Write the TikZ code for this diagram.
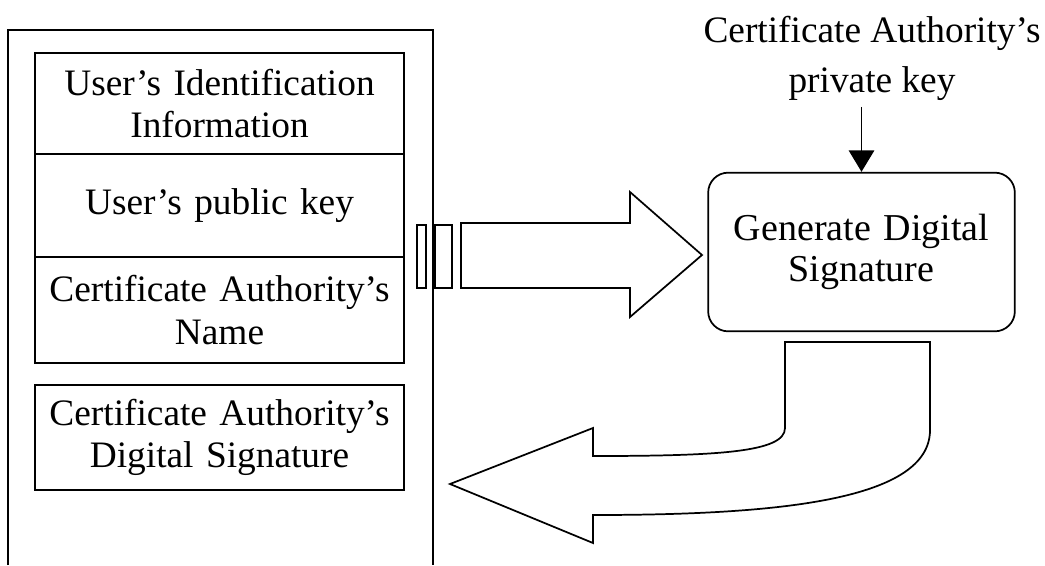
\documentclass[tikz,border=0pt]{standalone}
\usepackage{fontspec}
\setmainfont{Liberation Serif}
\usetikzlibrary{positioning, arrows.meta}
\tikzset{
	>={Triangle[width=19pt,length=16pt]},
	field/.style={draw, line width=1.3pt, minimum width=277pt, text width=272pt, align=center, inner sep=0pt, outer sep=0pt, font=\fontsize{28}{32}\selectfont},
	genbox/.style={draw, line width=1.3pt, rounded corners=15pt, minimum width=230pt, minimum height=119pt, text width=222pt, align=center, font=\fontsize{28.5}{31}\selectfont},
	bigarrow/.style={draw, line width=1.3pt, line join=miter},
}

\begin{document}
\begin{tikzpicture}[x=0.75pt, y=-0.75pt]
			\useasboundingbox (0,0) rectangle (1045,565);
			\node[field, minimum height=76pt] (USERID) at (219.5,103.5) {User’s Identification\\Information};
			\node[field, minimum height=77pt, below=0pt of USERID] (PUBKEY) {User’s public key};
			\node[field, minimum height=79.5pt, below=0pt of PUBKEY] (CANAME) {Certificate Authority’s\\Name};
			\node[field, minimum height=79pt, below=16.5pt of CANAME] (CASIG) {Certificate Authority’s\\Digital Signature};
			\node[genbox] (GEN) at (861.5,252) {Generate Digital\\Signature};
			\node[font=\fontsize{28}{37.5}\selectfont, align=center] (PRIVKEY) at (872,58) {Certificate Authority’s\\private key};
			
			% certificate frame, open at the bottom
			\draw[line width=1.3pt] (8,565) -- (8,30) -- (433,30) -- (433,565);
			\draw[line width=1.3pt] (417,225) rectangle (426,288);
			\draw[line width=1.3pt] (435,225) rectangle (452,288);
			
			\draw[->, line width=1.3pt] (PRIVKEY.south -| GEN.north) ++(0,2) -- (GEN.north);
			\draw[bigarrow] (461,223) -- (630,223) -- (630,192) -- (702,255) -- (630,317) -- (630,288) -- (461,288) -- cycle;
			\draw[bigarrow] (785,342) -- (930,342) -- (930,430) .. controls (930,500) and (780,515) .. (593,515) -- (593,543) -- (450,484) -- (593,428) -- (593,456) .. controls (720,456) and (785,452) .. (785,428) -- cycle;
			
		\end{tikzpicture}
\end{document}
